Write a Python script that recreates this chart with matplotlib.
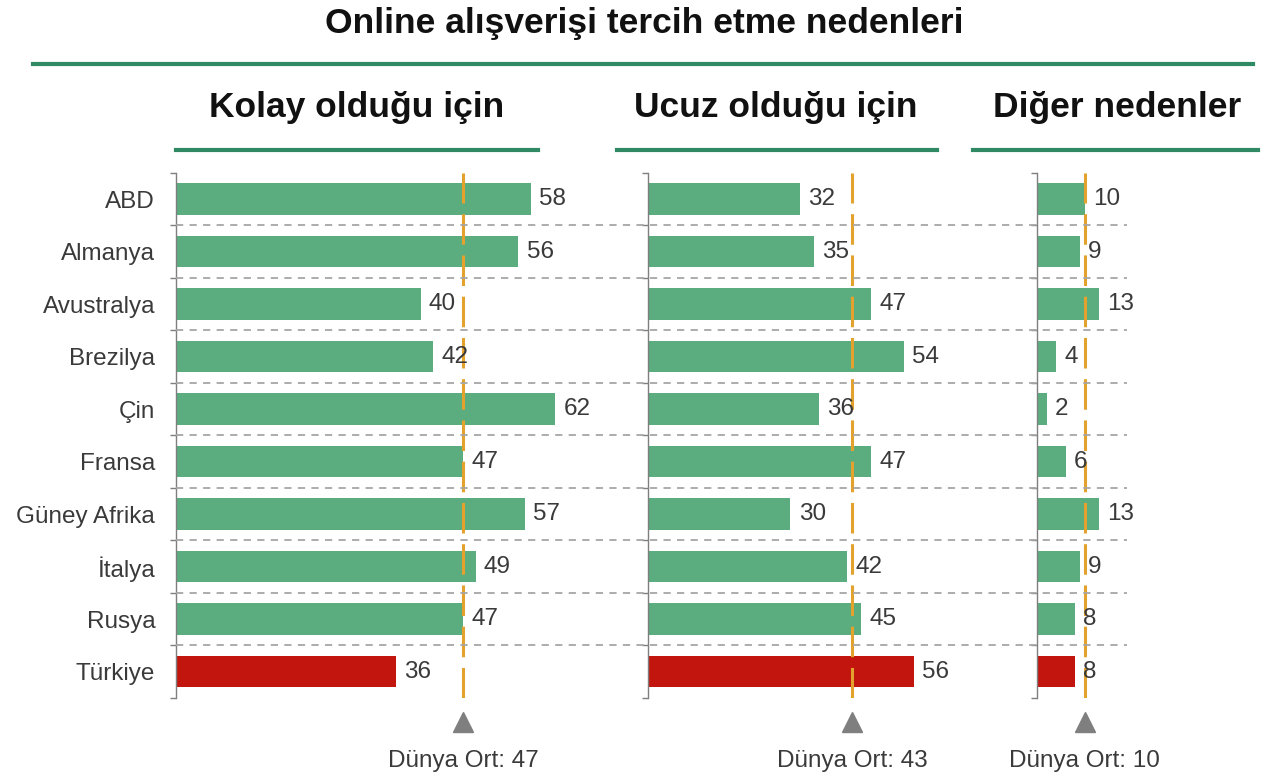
import matplotlib
matplotlib.use("Agg")
import matplotlib.pyplot as plt
from matplotlib.transforms import blended_transform_factory
from matplotlib.lines import Line2D

plt.rcParams['font.family'] = ['Liberation Sans', 'DejaVu Sans']

countries = ["ABD", "Almanya", "Avustralya", "Brezilya", "Çin", "Fransa",
             "Güney Afrika", "İtalya", "Rusya", "Türkiye"]
kolay = [58, 56, 40, 42, 62, 47, 57, 49, 47, 36]
ucuz = [32, 35, 47, 54, 36, 47, 30, 42, 45, 56]
diger = [10, 9, 13, 4, 2, 6, 13, 9, 8, 8]
averages = [47, 43, 10]
panel_titles = ["Kolay olduğu için", "Ucuz olduğu için", "Diğer nedenler"]
main_title = "Online alışverişi tercih etme nedenleri"
avg_label = "Dünya Ort: {}"
highlight = "Türkiye"

W, H = 1271, 781
fig = plt.figure(figsize=(W / 100, H / 100), dpi=100)

GREEN = "#5BAD80"
RED = "#C1150D"
LINE_GREEN = "#2F8A63"
ORANGE = "#E3A22E"
TEXT = "#3A3A3A"
FS = 17.5

# panel geometry in pixels: (left, right, xmax)
panels = [(176, 604, 70), (648, 942, 62), (1037, 1156, 25)]
top_px, bot_px = 173, 698
series = [kolay, ucuz, diger]

axes = []
for i, ((l, r, xmax), vals) in enumerate(zip(panels, series)):
    ax = fig.add_axes([l / W, 1 - bot_px / H, (r - l) / W, (bot_px - top_px) / H])
    axes.append(ax)
    y = list(range(len(countries)))
    colors = [RED if c == highlight else GREEN for c in countries]
    ax.barh(y, vals, height=0.6, color=colors, zorder=2)
    ax.set_xlim(0, xmax)
    ax.set_ylim(len(countries) - 0.5, -0.5)
    for s in ["top", "right", "bottom"]:
        ax.spines[s].set_visible(False)
    ax.spines["left"].set_color("#7F7F7F")
    ax.spines["left"].set_linewidth(1.0)
    ax.set_xticks([])
    ax.set_yticks([k - 0.5 for k in range(len(countries) + 1)], minor=True)
    ax.tick_params(axis="y", which="minor", length=4, color="#7F7F7F", width=1, direction="out")
    if i == 0:
        ax.set_yticks(y)
        ax.set_yticklabels(countries, fontsize=FS, color=TEXT)
        ax.tick_params(axis="y", which="major", length=0, pad=15)
    else:
        ax.set_yticks([])
    ax.patch.set_alpha(0)
    for yy, v in zip(y, vals):
        ax.annotate(str(v), (v, yy), xytext=(6, 0), textcoords="offset points",
                    va="center", ha="left", fontsize=FS, color=TEXT, zorder=4)
    avg = averages[i]
    ax.axvline(avg, color=ORANGE, lw=2.2, dashes=(10, 3.5), zorder=3)
    tr = blended_transform_factory(ax.transData, ax.transAxes)
    ax.plot([avg], [-0.046], marker="^", markersize=15, color="#7F7F7F",
            transform=tr, clip_on=False)
    ax.text(avg, -0.12, avg_label.format(avg), transform=tr, ha="center", va="center",
            fontsize=FS, color=TEXT)

# row separators spanning the panels
ax0 = axes[0]
trs = blended_transform_factory(fig.transFigure, ax0.transData)
for k in range(len(countries) - 1):
    fig.add_artist(Line2D([176 / W, 1127 / W], [k + 0.5, k + 0.5], transform=trs,
                          color="#A6A6A6", lw=1.3, dashes=(4, 3.5), zorder=1))

# titles and green rules
fig.text(644 / W, 1 - 23 / H, main_title, ha="center", va="center",
         fontsize=25.5, fontweight="bold", color="#111111")
fig.add_artist(Line2D([33 / W, 1253 / W], [1 - 64 / H] * 2, color=LINE_GREEN, lw=3))
sub_spans = [(176, 538), (617, 937), (973, 1258)]
sub_centers = [357, 776, 1117]
for (a, b), c, t in zip(sub_spans, sub_centers, panel_titles):
    fig.text(c / W, 1 - 108 / H, t, ha="center", va="center",
             fontsize=25.5, fontweight="bold", color="#111111")
    fig.add_artist(Line2D([a / W, b / W], [1 - 150 / H] * 2, color=LINE_GREEN, lw=3))

fig.savefig("out.png", dpi=100, facecolor="white")
